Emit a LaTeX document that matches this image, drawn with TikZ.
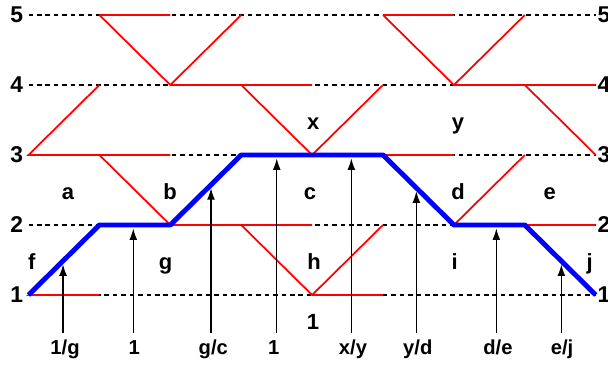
\documentclass[tikz,border=0pt]{standalone}
\usepackage{fontspec}
\setmainfont{Liberation Sans}
\usetikzlibrary{arrows.meta}

\tikzset{
  lvlL/.style={anchor=east, inner sep=0.1cm, font=\fontsize{13}{15}\selectfont\bfseries},
  lvlR/.style={anchor=west, inner sep=0.03cm, font=\fontsize{13}{15}\selectfont\bfseries},
  region/.style={anchor=base, inner sep=0pt, font=\fontsize{12.5}{14}\selectfont\bfseries},
  ratio/.style={anchor=base, inner sep=0pt, font=\fontsize{11.5}{13}\selectfont\bfseries},
  guide/.style={line width=0.6pt, dash pattern=on 2.6pt off 2.2pt},
  tile/.style={red, line width=1pt},
  walk/.style={blue, line width=2.8pt, line join=round},
  probe/.style={line width=0.65pt, -{Latex[length=6.5pt,width=4.5pt]}, shorten >=2pt},
}

\begin{document}
\begin{tikzpicture}[x=1.418cm, y=1.4cm]
  \useasboundingbox (-0.402,0.0143) rectangle (8.173,5.214);

  % levels
  \foreach \k in {1,...,5} {
    \node[lvlL] (l\k) at (0,\k) {\k};
    \node[lvlR] (r\k) at (8,\k) {\k};
    \draw[guide] (l\k) -- (r\k);
  }

  % tiles
  \draw[tile] (1,4) -- (0,3) -- (1,3) (1,2) -- (0,1) -- (1,1);
  \draw[tile] (1,5) -- (2,5) (1,5) -- (2,4) -- (3,5) (2,4) -- (4,4)
    (3,4) -- (4,3) -- (5,4) (4,3) -- (5,3);
  \draw[tile] (5,5) -- (6,5) (5,5) -- (6,4) -- (7,5) (6,4) -- (8,4)
    (7,4) -- (8,3);
  \draw[tile] (1,3) -- (2,3) (1,3) -- (2,2) -- (3,3) (2,2) -- (4,2)
    (3,2) -- (4,1) -- (5,2) (4,1) -- (5,1);
  \draw[tile] (5,3) -- (6,3) (5,3) -- (6,2) -- (7,3) (6,2) -- (8,2)
    (7,2) -- (8,1);

  % path
  \coordinate (v0) at (0,1);
  \coordinate (v1) at (1,2);
  \coordinate (v2) at (2,2);
  \coordinate (v3) at (3,3);
  \coordinate (v4) at (5,3);
  \coordinate (v5) at (6,2);
  \coordinate (v6) at (7,2);
  \coordinate (v7) at (8,1);
  \draw[walk] (v0) -- (v1) -- (v2) -- (v3) -- (v4) -- (v5) -- (v6) -- (v7);

  % regions
  \node[region] (ra) at (0.557,2.367) {a};
  \node[region] (rb) at (1.996,2.367) {b};
  \node[region] (rc) at (3.97,2.367) {c};
  \node[region] (rd) at (6.058,2.367) {d};
  \node[region] (re) at (7.35,2.367) {e};
  \node[region] (rf) at (0.045,1.364) {f};
  \node[region] (rg) at (1.935,1.364) {g};
  \node[region] (rh) at (4.027,1.364) {h};
  \node[region] (ri) at (6.01,1.364) {i};
  \node[region] (rj) at (7.915,1.364) {j};
  \node[region] (rx) at (4.017,3.367) {x};
  \node[region] (ry) at (6.058,3.367) {y};
  \node[region] (r0) at (4.013,0.5) {1};

  % ratios
  \node[ratio] (q1) at (0.515,0.143) {1/g};
  \node[ratio] (q2) at (1.49,0.143) {1};
  \node[ratio] (q3) at (2.606,0.143) {g/c};
  \node[ratio] (q4) at (3.46,0.143) {1};
  \node[ratio] (q5) at (4.577,0.143) {x/y};
  \node[ratio] (q6) at (5.49,0.143) {y/d};
  \node[ratio] (q7) at (6.62,0.143) {d/e};
  \node[ratio] (q8) at (7.525,0.143) {e/j};

  \coordinate (s1) at (0.487,0.457);
  \coordinate (s2) at (1.478,0.457);
  \coordinate (s3) at (2.574,0.457);
  \coordinate (s4) at (3.501,0.457);
  \coordinate (s5) at (4.553,0.457);
  \coordinate (s6) at (5.47,0.457);
  \coordinate (s7) at (6.598,0.457);
  \coordinate (s8) at (7.515,0.457);
  \coordinate (t1) at (0.487,1.487);
  \coordinate (t2) at (1.478,2);
  \coordinate (t3) at (2.574,2.574);
  \coordinate (t4) at (3.501,3);
  \coordinate (t5) at (4.553,3);
  \coordinate (t6) at (5.47,2.53);
  \coordinate (t7) at (6.598,2);
  \coordinate (t8) at (7.515,1.485);
  \draw[probe] (s1) -- (t1);
  \draw[probe] (s2) -- (t2);
  \draw[probe] (s3) -- (t3);
  \draw[probe] (s4) -- (t4);
  \draw[probe] (s5) -- (t5);
  \draw[probe] (s6) -- (t6);
  \draw[probe] (s7) -- (t7);
  \draw[probe] (s8) -- (t8);
\end{tikzpicture}
\end{document}
